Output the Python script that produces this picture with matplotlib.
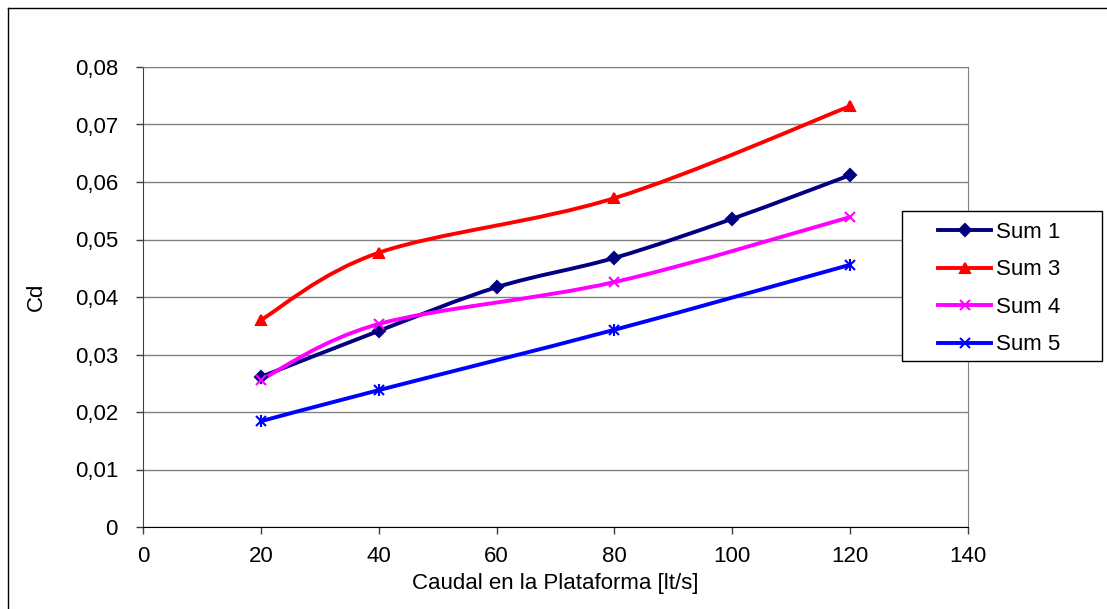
import numpy as np
import matplotlib.pyplot as plt
from matplotlib.path import Path
from matplotlib.patches import PathPatch, Rectangle
from matplotlib.lines import Line2D
from matplotlib.ticker import FuncFormatter, MultipleLocator

plt.rcParams['font.family'] = ['Liberation Sans', 'DejaVu Sans']

x1 = [20, 40, 60, 80, 100, 120]
sum1 = [0.0261, 0.0341, 0.0417, 0.0468, 0.0536, 0.0612]
x3 = [20, 40, 80, 120]
sum3 = [0.0360, 0.0477, 0.0572, 0.0732]
x4 = [20, 40, 80, 120]
sum4 = [0.0256, 0.0353, 0.0426, 0.0539]
x5 = [20, 40, 80, 120]
sum5 = [0.0184, 0.0238, 0.0343, 0.0456]


def smooth_path(xs, ys):
    # excel-like smoothed line: bezier segments through every point
    p = np.column_stack([xs, ys]).astype(float)
    n = len(p)
    verts = [p[0]]
    codes = [Path.MOVETO]
    for i in range(n - 1):
        p0 = p[i - 1] if i > 0 else p[i]
        p3 = p[i + 2] if i + 2 < n else p[i + 1]
        c1 = p[i] + (p[i + 1] - p0) / 6
        c2 = p[i + 1] - (p3 - p[i]) / 6
        verts += [c1, c2, p[i + 1]]
        codes += [Path.CURVE4] * 3
    return Path(verts, codes)


W, H = 1107, 609
fig = plt.figure(figsize=(W / 100, H / 100), dpi=100)
ax = fig.add_axes([143 / W, 1 - 527 / H, 825 / W, 460 / H])

series = [
    ("Sum 1", x1, sum1, "#000080", "D", 6),
    ("Sum 3", x3, sum3, "#FF0000", "^", 7),
    ("Sum 4", x4, sum4, "#FF00FF", "x", 7),
    ("Sum 5", x5, sum5, "#0000FF", "x", 7),
]

fs = 16
handles = []
for name, xs, ys, col, mk, ms in series:
    ax.add_patch(PathPatch(smooth_path(xs, ys), fill=False, edgecolor=col, lw=2.8, zorder=3))
    ax.plot(xs, ys, linestyle="none", marker=mk, color=col, ms=ms, mew=1.5, zorder=4)
    if name == "Sum 5":
        ax.plot(xs, ys, linestyle="none", marker="|", color=col, ms=ms + 1, mew=1.5, zorder=4)
    handles.append(Line2D([], [], color=col, lw=2.8, marker=mk, ms=ms, mew=1.5))

ax.set_xlim(0, 140)
ax.set_ylim(0, 0.08)
ax.xaxis.set_major_locator(MultipleLocator(20))
ax.yaxis.set_major_locator(MultipleLocator(0.01))
ax.yaxis.set_major_formatter(FuncFormatter(lambda v, p: "0" if abs(v) < 1e-9 else f"{v:.2f}".replace(".", ",")))
ax.grid(axis="y", color="#808080", lw=1)
ax.set_axisbelow(True)
for s in ["top", "right"]:
    ax.spines[s].set_color("#808080")
ax.spines["left"].set_color("#404040")
ax.spines["bottom"].set_color("#000000")
ax.tick_params(direction="out", length=5, width=1, color="#404040", labelsize=fs)
ax.tick_params(axis="x", pad=9)
ax.tick_params(axis="y", pad=13)

ax.set_xlabel("Caudal en la Plataforma [lt/s]", fontsize=fs, labelpad=4)
ax.set_ylabel("Cd", fontsize=fs, labelpad=20)

# legend box drawn separately so it can be wider than its entries
fig.add_artist(Rectangle((902 / W, 1 - 361 / H), 200 / W, 150 / H, transform=fig.transFigure,
                         facecolor="white", edgecolor="black", lw=1, zorder=5))
leg = fig.legend(handles, ["Sum 1", "Sum 3", "Sum 4", "Sum 5"],
                 loc="upper left", bbox_to_anchor=(938 / W, 1 - 222 / H),
                 fontsize=fs, frameon=False, handlelength=2.4, handletextpad=0.2,
                 labelspacing=0.74, borderpad=0, borderaxespad=0)
leg.set_zorder(6)

# chart area border (left and top visible)
fig.add_artist(Line2D([7.5 / W, 7.5 / W], [0, 1 - 7.5 / H], color="black", lw=1))
fig.add_artist(Line2D([7.5 / W, 1], [1 - 7.5 / H, 1 - 7.5 / H], color="black", lw=1))

fig.savefig("out.png", dpi=100)
